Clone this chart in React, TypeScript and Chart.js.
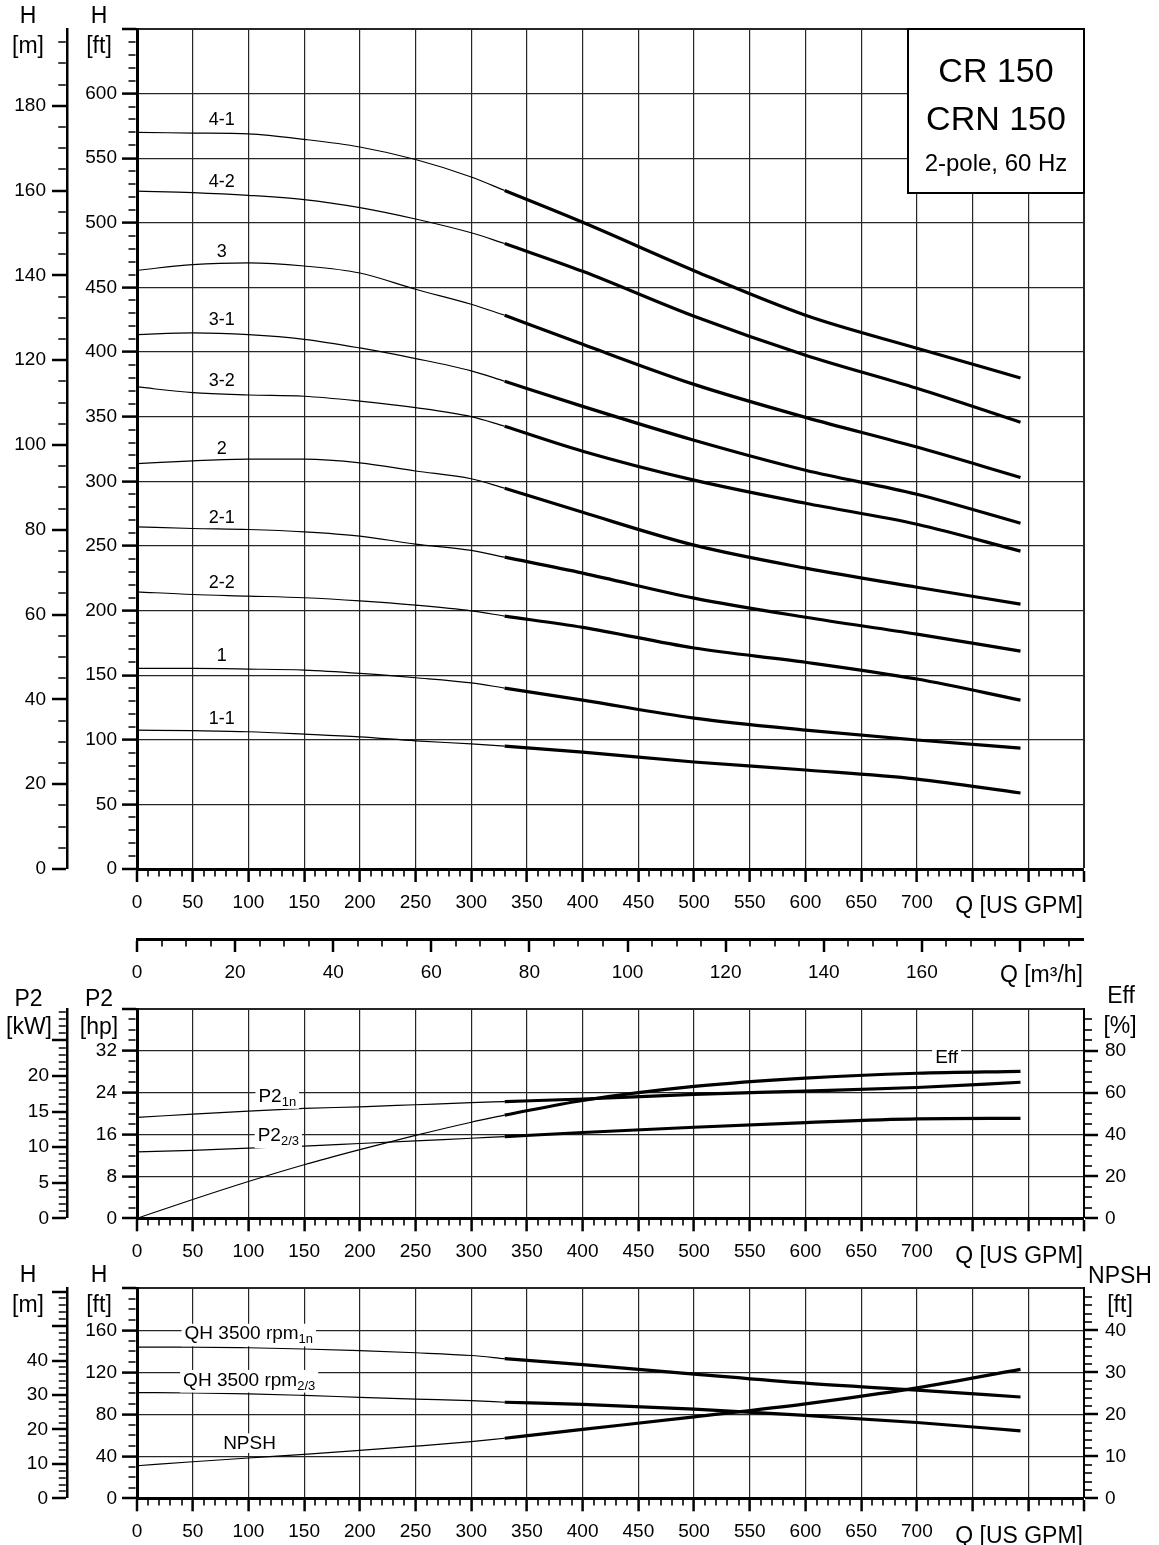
import React, { useEffect, useRef } from 'react';
import { Chart, registerables } from 'chart.js';

Chart.register(...registerables);

const FONT = '"Liberation Sans", Arial, Helvetica, sans-serif';
const INK = '#000';
const GRID = '#262626';
const THIN = 1.2;
const THICK = 3.2;

const FT_PER_M = 3.28084;
const GPM_PER_M3H = 4.40287;
const HP_PER_KW = 1.36;

// ---------- flow sample points (US GPM) ----------
const gpmThin = [0, 50, 100, 150, 200, 250, 300, 330];
const gpmThick = [330, 400, 500, 600, 700, 793];

// ---------- Q-H curves, head in ft ----------
const curveNames = ['4-1', '4-2', '3', '3-1', '3-2', '2', '2-1', '2-2', '1', '1-1'];
const head41Thin = [570, 569.5, 568.8, 564.6, 558.7, 549, 535.5, 525];
const head41Thick = [525, 500.4, 463, 428.5, 403, 380];
const head42Thin = [524.6, 523.4, 521.3, 518, 511.8, 503, 492.3, 484];
const head42Thick = [484, 462.5, 427.7, 397.6, 372, 345.7];
const head3Thin = [463.3, 467.7, 469, 466.6, 461.2, 448.6, 437, 428.5];
const head3Thick = [428.5, 406, 375, 349.5, 326.5, 303];
const head31Thin = [413.5, 414.8, 413.5, 409.9, 403.2, 395, 385.5, 377.4];
const head31Thick = [377.4, 358, 331.8, 308.6, 290, 267.6];
const head32Thin = [373, 368.6, 366.8, 365.8, 362, 357, 350, 342.6];
const head32Thick = [342.6, 323.3, 300.9, 283, 266.8, 246];
const head2Thin = [313.7, 315.8, 317.1, 317.1, 314.3, 308, 302, 294.7];
const head2Thick = [294.7, 276, 250.6, 232.8, 218, 205];
const head21Thin = [264.8, 263.5, 262.7, 260.9, 257.6, 251.4, 246.5, 241.3];
const head21Thick = [241.3, 229, 209.6, 194.8, 181.7, 168.6];
const head22Thin = [214.5, 212.4, 211.2, 209.9, 207.5, 204.2, 199.8, 195.7];
const head22Thick = [195.7, 187, 171, 160, 147, 130.7];
const head1Thin = [155.2, 155.2, 154.7, 153.9, 151.4, 148, 144, 140];
const head1Thick = [140, 130.7, 116.8, 107.5, 99.8, 93.6];
const head11Thin = [107.5, 107, 106.2, 104.4, 102.3, 99.2, 96.8, 95.1];
const head11Thick = [95.1, 90.5, 82.8, 76.6, 69.6, 58.8];

const headThin = [head41Thin, head42Thin, head3Thin, head31Thin, head32Thin, head2Thin, head21Thin, head22Thin, head1Thin, head11Thin];
const headThick = [head41Thick, head42Thick, head3Thick, head31Thick, head32Thick, head2Thick, head21Thick, head22Thick, head1Thick, head11Thick];

// curve label anchors (flow, head of text baseline)
const curveLabelGpm = 76;
const curveLabelFt = [575.5, 527.7, 473.6, 420.8, 373.8, 321.5, 267.8, 217.1, 161.1, 111.9];

// ---------- power (hp) and efficiency (%) ----------
const p2FullThin = [19.3, 19.9, 20.5, 21.0, 21.3, 21.7, 22.1, 22.3];
const p2FullThick = [22.3, 22.8, 23.7, 24.3, 25.0, 26.0];
const p2PartThin = [12.7, 13.0, 13.4, 13.8, 14.3, 14.8, 15.3, 15.6];
const p2PartThick = [15.6, 16.4, 17.4, 18.3, 19.0, 19.1];
const effThin = [0, 9.0, 17.6, 25.6, 32.8, 39.6, 45.9, 49.3];
const effThick = [49.3, 56.3, 63, 67, 69.3, 70.2];

// ---------- single-stage QH (ft) and NPSH (ft) ----------
const qhFullThin = [144, 144, 143.4, 142.2, 140.6, 138.6, 136, 133];
const qhFullThick = [133, 127.3, 118.3, 109.6, 103, 96.5];
const qhPartThin = [100.7, 100.3, 99.5, 98, 96.2, 94.5, 93, 91.5];
const qhPartThick = [91.5, 89.5, 85, 79, 72.2, 64.2];
const npshThin = [7.75, 8.7, 9.6, 10.45, 11.4, 12.4, 13.5, 14.3];
const npshThick = [14.3, 16.4, 19.4, 22.5, 26.3, 30.7];

// label anchors
const p2Labels = [
  { main: 'P2', sub: '1n', gpm: 109, val: 22.26 },
  { main: 'P2', sub: '2/3', gpm: 108.3, val: 14.75 },
];
const effLabel = { text: 'Eff', gpm: 726.7, val: 74.0 };
const qhLabels = [
  { main: 'QH 3500 rpm', sub: '1n', gpm: 42.7, val: 151.4 },
  { main: 'QH 3500 rpm', sub: '2/3', gpm: 41.4, val: 107.4 },
];
const npshLabel = { text: 'NPSH', gpm: 101, val: 47.0 };

// ---------- helpers ----------
const near = (a: number, b: number) => Math.abs(a - b) < 1e-6;
const isMult = (v: number, s: number) => Math.abs(v / s - Math.round(v / s)) < 1e-6;

type AxisSpec = {
  position: 'left' | 'right' | 'bottom';
  weight?: number;
  min: number;
  max: number;
  step: number;
  majorStep: number;
  labelMax: number;
  tickLen: number;
  minorLen: number;
  padding: number;
  size: number;
  grid?: boolean;
  frameAt?: number;
  hideAbove?: number;
  borderWidth?: number;
};

function axis(s: AxisSpec): any {
  const bw = s.borderWidth ?? 3;
  const vOf = (c: any) => (c && c.tick ? c.tick.value : NaN);
  const major = (v: number) => isMult(v, s.majorStep);
  const hidden = (v: number) =>
    isNaN(v) || (s.hideAbove !== undefined && v > s.hideAbove + 1e-6) || !isMult(v, s.step);
  const L = s.tickLen - bw / 2;
  const minorDash = s.position === 'left' ? [0, L - s.minorLen, s.minorLen, 1000] : [s.minorLen, 1000];
  return {
    type: 'linear',
    position: s.position,
    weight: s.weight ?? 0,
    min: s.min,
    max: s.max,
    bounds: 'data',
    afterFit: (sc: any) => {
      if (s.position === 'bottom') sc.height = s.size;
      else sc.width = s.size;
    },
    border: { display: true, width: bw, color: INK },
    grid: {
      display: true,
      drawOnChartArea: !!s.grid,
      drawTicks: true,
      tickLength: s.tickLen,
      color: GRID,
      lineWidth: (c: any) => {
        const v = vOf(c);
        if (!s.grid || isNaN(v)) return 0;
        if (s.frameAt !== undefined && near(v, s.frameAt)) return 2;
        if (near(v, s.min)) return 0;
        return major(v) ? THIN : 0;
      },
      tickColor: (c: any) => (hidden(vOf(c)) ? 'rgba(0,0,0,0)' : INK),
      tickWidth: (c: any) => (major(vOf(c)) ? 2.5 : 1.6),
      tickBorderDash: (c: any) => (major(vOf(c)) ? [] : minorDash),
    },
    ticks: {
      stepSize: s.step,
      autoSkip: false,
      includeBounds: false,
      maxTicksLimit: 1000,
      maxRotation: 0,
      minRotation: 0,
      padding: s.padding,
      color: INK,
      font: { family: FONT, size: 19 },
      callback: (v: number) => (major(v) && v <= s.labelMax + 1e-6 ? String(Math.round(v)) : ''),
    },
  };
}

const gpmAxis = (size: number) =>
  axis({ position: 'bottom', weight: 0, min: 0, max: 850, step: 10, majorStep: 50, labelMax: 700, tickLen: 13, minorLen: 5.5, padding: 9, size, grid: true, frameAt: 850 });

const pts = (xs: number[], ys: number[]) => xs.map((x, i) => ({ x, y: ys[i] }));
function curve(xs: number[], ys: number[], width: number, yAxisID = 'y'): any {
  return {
    type: 'line',
    data: pts(xs, ys),
    borderColor: INK,
    borderWidth: width,
    pointRadius: 0,
    pointHoverRadius: 0,
    fill: false,
    cubicInterpolationMode: 'monotone',
    xAxisID: 'x',
    yAxisID,
  };
}

function text(ctx: CanvasRenderingContext2D, s: string, x: number, y: number, size: number, align: CanvasTextAlign = 'center') {
  ctx.save();
  ctx.font = `${size}px ${FONT}`;
  ctx.fillStyle = INK;
  ctx.textAlign = align;
  ctx.textBaseline = 'alphabetic';
  ctx.fillText(s, x, y);
  ctx.restore();
}

function boxedText(ctx: CanvasRenderingContext2D, s: string, x: number, y: number, size: number) {
  ctx.save();
  ctx.font = `${size}px ${FONT}`;
  const w = ctx.measureText(s).width;
  ctx.fillStyle = '#fff';
  ctx.fillRect(x - w / 2 - 3, y - size * 0.82, w + 6, size * 0.82 + 4);
  ctx.restore();
  text(ctx, s, x, y, size);
}

function subLabel(ctx: CanvasRenderingContext2D, main: string, sub: string, x: number, y: number, size: number, subSize: number) {
  ctx.save();
  ctx.font = `${size}px ${FONT}`;
  const w1 = ctx.measureText(main).width;
  ctx.font = `${subSize}px ${FONT}`;
  const w2 = ctx.measureText(sub).width;
  ctx.fillStyle = '#fff';
  ctx.fillRect(x - 3, y - size * 0.82, w1 + w2 + 6, size * 0.82 + 7);
  ctx.fillStyle = INK;
  ctx.textAlign = 'left';
  ctx.textBaseline = 'alphabetic';
  ctx.font = `${size}px ${FONT}`;
  ctx.fillText(main, x, y);
  ctx.font = `${subSize}px ${FONT}`;
  ctx.fillText(sub, x + w1, y + 4);
  ctx.restore();
}

const baseOptions = (padding: any) => ({
  animation: false,
  responsive: false,
  maintainAspectRatio: false,
  devicePixelRatio: 1,
  events: [],
  layout: { padding },
  plugins: { legend: { display: false }, tooltip: { enabled: false }, title: { display: false } },
});

// ---------- chart 1: Q-H curves ----------
function topConfig(): any {
  const datasets: any[] = [];
  headThin.forEach((h, i) => {
    datasets.push(curve(gpmThin, h, THIN));
    datasets.push(curve(gpmThick, headThick[i], THICK));
  });
  const deco = {
    id: 'topDeco',
    afterDraw(chart: any) {
      const { ctx, chartArea: a, scales } = chart;
      const { x, x2, y, ym } = scales;
      text(ctx, 'H', ym.right - 39, a.top - 5.7, 23);
      text(ctx, '[m]', ym.right - 39, a.top + 24, 23);
      text(ctx, 'H', y.right - 38, a.top - 5.7, 23);
      text(ctx, '[ft]', y.right - 38, a.top + 24, 23);
      text(ctx, 'Q [US GPM]', a.right - 1, a.bottom + 44.3, 23, 'right');
      text(ctx, 'Q [m³/h]', a.right - 1, x2.top + 43, 23, 'right');
      // model box
      const bw = 176;
      const bh = 164;
      ctx.save();
      ctx.fillStyle = '#fff';
      ctx.fillRect(a.right - bw, a.top, bw, bh);
      ctx.lineWidth = 2;
      ctx.strokeStyle = INK;
      ctx.strokeRect(a.right - bw, a.top, bw, bh);
      ctx.restore();
      const cx = a.right - bw / 2;
      text(ctx, 'CR 150', cx, a.top + 52.7, 34);
      text(ctx, 'CRN 150', cx, a.top + 101, 34);
      text(ctx, '2-pole, 60 Hz', cx, a.top + 141.5, 24);
      curveNames.forEach((n, i) => {
        text(ctx, n, x.getPixelForValue(curveLabelGpm), y.getPixelForValue(curveLabelFt[i]), 18);
      });
    },
  };
  return {
    type: 'line',
    data: { datasets },
    options: {
      ...baseOptions({ left: 0, top: 29, right: 75, bottom: 556 }),
      scales: {
        x: gpmAxis(70),
        x2: axis({ position: 'bottom', weight: 1, min: 0, max: 850 / GPM_PER_M3H, step: 5, majorStep: 20, labelMax: 160, tickLen: 13, minorLen: 5.5, padding: 9, size: 50 }),
        y: axis({ position: 'left', weight: 0, min: 0, max: 650, step: 10, majorStep: 50, labelMax: 600, tickLen: 15, minorLen: 7, padding: 5, size: 70, grid: true, frameAt: 650 }),
        ym: axis({ position: 'left', weight: 1, min: 0, max: 650 / FT_PER_M, step: 5, majorStep: 20, labelMax: 180, tickLen: 15, minorLen: 7.5, padding: 6, size: 67, borderWidth: 2.5 }),
      },
    },
    plugins: [deco],
  };
}

// ---------- chart 2: P2 / Eff ----------
function p2Config(): any {
  const datasets = [
    curve(gpmThin, p2FullThin, THIN),
    curve(gpmThick, p2FullThick, THICK),
    curve(gpmThin, p2PartThin, THIN),
    curve(gpmThick, p2PartThick, THICK),
    curve(gpmThin, effThin, THIN, 'yeff'),
    curve(gpmThick, effThick, THICK, 'yeff'),
  ];
  const deco = {
    id: 'p2Deco',
    afterDraw(chart: any) {
      const { ctx, chartArea: a, scales } = chart;
      const { x, y, ykw, yeff } = scales;
      text(ctx, 'P2', ykw.right - 38.5, a.top - 3, 23);
      text(ctx, '[kW]', ykw.right - 38, a.top + 24.5, 23);
      text(ctx, 'P2', y.right - 38, a.top - 3, 23);
      text(ctx, '[hp]', y.right - 38, a.top + 24.5, 23);
      text(ctx, 'Eff', yeff.left + 37, a.top - 6, 23);
      text(ctx, '[%]', yeff.left + 36, a.top + 24.3, 23);
      text(ctx, 'Q [US GPM]', a.right - 1, a.bottom + 44.3, 23, 'right');
      p2Labels.forEach((l) => subLabel(ctx, l.main, l.sub, x.getPixelForValue(l.gpm), y.getPixelForValue(l.val), 19, 13));
      boxedText(ctx, effLabel.text, x.getPixelForValue(effLabel.gpm), yeff.getPixelForValue(effLabel.val), 19);
    },
  };
  return {
    type: 'line',
    data: { datasets },
    options: {
      ...baseOptions({ left: 0, top: 1009, right: 0, bottom: 1545 - 1218.3 - 50 }),
      scales: {
        x: gpmAxis(50),
        y: axis({ position: 'left', weight: 0, min: 0, max: 40, step: 2, majorStep: 8, labelMax: 32, tickLen: 15, minorLen: 7, padding: 5, size: 70, grid: true, frameAt: 40 }),
        ykw: axis({ position: 'left', weight: 1, min: 0, max: 40 / HP_PER_KW, step: 1, majorStep: 5, labelMax: 20, tickLen: 15, minorLen: 7, padding: 3, size: 67, borderWidth: 2.5 }),
        yeff: axis({ position: 'right', weight: 0, min: 0, max: 100, step: 5, majorStep: 20, labelMax: 80, tickLen: 14, minorLen: 7, padding: 7, size: 75, hideAbove: 99, borderWidth: 2 }),
      },
    },
    plugins: [deco],
  };
}

// ---------- chart 3: single stage QH / NPSH ----------
function npshConfig(): any {
  const datasets = [
    curve(gpmThin, qhFullThin, THIN),
    curve(gpmThick, qhFullThick, THICK),
    curve(gpmThin, qhPartThin, THIN),
    curve(gpmThick, qhPartThick, THICK),
    curve(gpmThin, npshThin, THIN, 'ynpsh'),
    curve(gpmThick, npshThick, THICK, 'ynpsh'),
  ];
  const deco = {
    id: 'npshDeco',
    afterDraw(chart: any) {
      const { ctx, chartArea: a, scales } = chart;
      const { x, y, ym, ynpsh } = scales;
      text(ctx, 'H', ym.right - 39, a.top - 6.6, 23);
      text(ctx, '[m]', ym.right - 39, a.top + 23.4, 23);
      text(ctx, 'H', y.right - 38, a.top - 6.6, 23);
      text(ctx, '[ft]', y.right - 38, a.top + 23.4, 23);
      text(ctx, 'NPSH', ynpsh.left + 36, a.top - 5.6, 23);
      text(ctx, '[ft]', ynpsh.left + 36, a.top + 23.4, 23);
      text(ctx, 'Q [US GPM]', a.right - 1, a.bottom + 44.3, 23, 'right');
      qhLabels.forEach((l) => subLabel(ctx, l.main, l.sub, x.getPixelForValue(l.gpm), y.getPixelForValue(l.val), 19, 13));
      boxedText(ctx, npshLabel.text, x.getPixelForValue(npshLabel.gpm), y.getPixelForValue(npshLabel.val), 19);
    },
  };
  return {
    type: 'line',
    data: { datasets },
    options: {
      ...baseOptions({ left: 0, top: 1288.3, right: 0, bottom: 0 }),
      scales: {
        x: gpmAxis(1545 - 1498.3),
        y: axis({ position: 'left', weight: 0, min: 0, max: 200, step: 10, majorStep: 40, labelMax: 160, tickLen: 15, minorLen: 7, padding: 5, size: 70, grid: true, frameAt: 200 }),
        ym: axis({ position: 'left', weight: 1, min: 0, max: 200 / FT_PER_M, step: 2, majorStep: 10, labelMax: 40, tickLen: 15, minorLen: 7, padding: 4, size: 67, borderWidth: 2.5 }),
        ynpsh: axis({ position: 'right', weight: 0, min: 0, max: 50, step: 2, majorStep: 10, labelMax: 40, tickLen: 14, minorLen: 7, padding: 7, size: 75, hideAbove: 49, borderWidth: 2 }),
      },
    },
    plugins: [deco],
  };
}

export default function App() {
  const c1 = useRef<HTMLCanvasElement>(null);
  const c2 = useRef<HTMLCanvasElement>(null);
  const c3 = useRef<HTMLCanvasElement>(null);
  useEffect(() => {
    const charts = [
      new Chart(c1.current as HTMLCanvasElement, topConfig()),
      new Chart(c2.current as HTMLCanvasElement, p2Config()),
      new Chart(c3.current as HTMLCanvasElement, npshConfig()),
    ];
    return () => charts.forEach((c) => c.destroy());
  }, []);
  const cs: React.CSSProperties = { position: 'absolute', left: 0, top: 0, width: 1159, height: 1545, display: 'block' };
  return (
    <div style={{ position: 'absolute', left: 0, top: 0, width: 1159, height: 1545, background: '#fff', overflow: 'hidden' }}>
      <canvas ref={c1} width={1159} height={1545} style={cs} />
      <canvas ref={c2} width={1159} height={1545} style={cs} />
      <canvas ref={c3} width={1159} height={1545} style={cs} />
    </div>
  );
}
